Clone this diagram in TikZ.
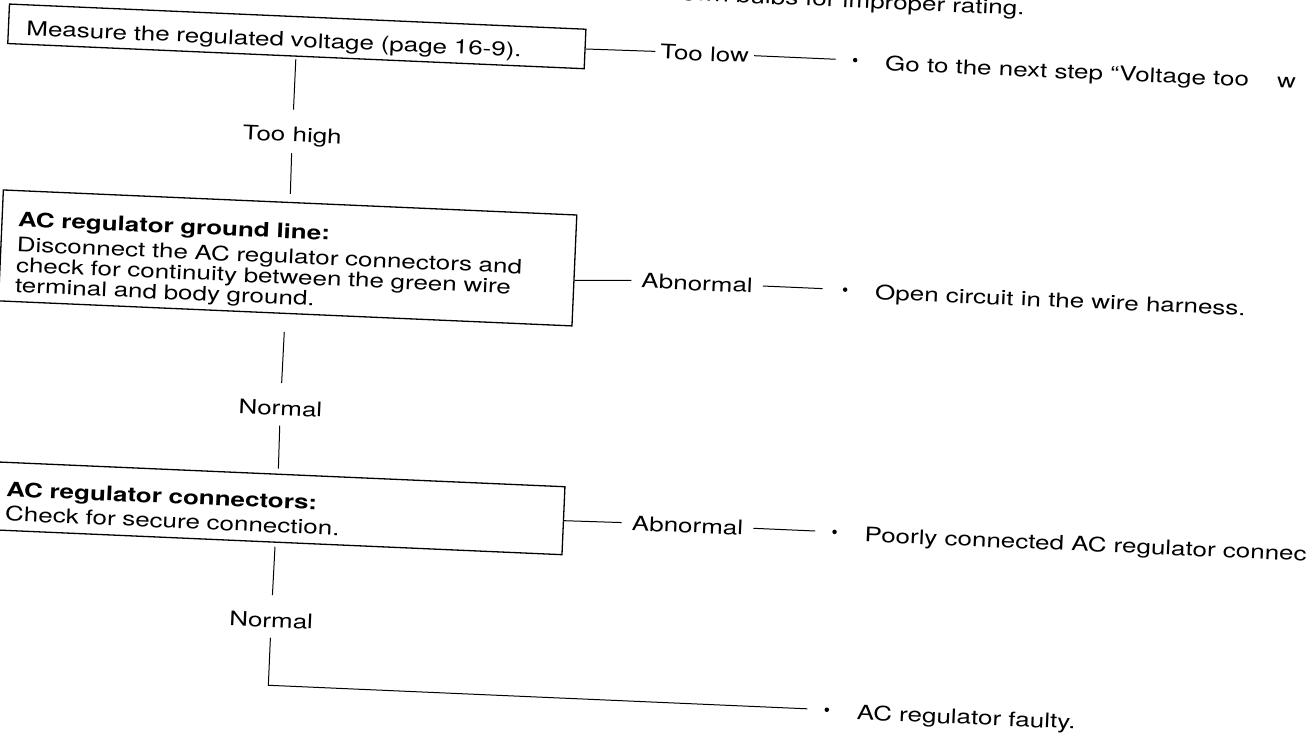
\documentclass[tikz,border=0pt]{standalone}
\usepackage{fontspec}
\setmainfont{TeX Gyre Heros}[FakeStretch=1.3]
\usetikzlibrary{calc}
\begin{document}
\begin{tikzpicture}[x=1pt,y=-1pt,
  every node/.style={font=\fontsize{20}{20.5}\selectfont},
  box/.style={draw, line width=1.3pt, rectangle, anchor=north west, inner ysep=0pt, align=left},
  vlbl/.style={anchor=base, inner xsep=3pt, inner ysep=0pt, text height=14.5pt, text depth=4.2pt},
  hlbl/.style={anchor=west, inner ysep=0pt, text height=14.5pt, text depth=0pt},
  conn/.style={line width=1pt},
  bul/.style={circle, fill, inner sep=0pt, minimum size=4.5pt},
  res/.style={anchor=base west, inner sep=0pt}]
\fill[white] (0,0) rectangle (1307,740);
\useasboundingbox (0,0) rectangle (1307,740);
\clip (0,0) rectangle (1307,740);
\begin{scope}[rotate=-2.5, transform shape]
  % partly visible line above
  \node[res] (top) at (672,-29.5) {rown bulbs for improper rating.};
  % boxes
  \node[box, inner xsep=18pt, text width=541pt, text height=30.5pt, text depth=9pt] (b1) at (9,3)
    {Measure the regulated voltage (page 16-9).};
  \node[box, inner xsep=16pt, text width=542pt, text height=36pt, text depth=75pt] (b2) at (11,189)
    {\baselineskip=20.5pt\relax
     {\bfseries AC regulator ground line:}\\[4.5pt]
     \makebox[542pt][s]{Disconnect the AC regulator connectors and}\\
     \makebox[542pt][s]{check for continuity between the green wire}\\
     terminal and body ground.};
  \node[box, inner xsep=16pt, text width=542pt, text height=34pt, text depth=34pt] (b3) at (11,461)
    {\baselineskip=20.5pt\relax
     {\bfseries AC regulator connectors:}\\[4pt]
     Check for secure connection.};
  % vertical labels
  \node[vlbl] (th) at (298,129) {Too high};
  \node[vlbl] (n1) at (298,402.7) {Normal};
  \node[vlbl] (n2) at (298,615) {Normal};
  % horizontal labels
  \node[hlbl, inner xsep=5pt] (tl) at (657,22.75) {Too low};
  \node[hlbl, inner xsep=10pt] (ab1) at (643,252.5) {Abnormal};
  \node[hlbl, inner xsep=10pt] (ab2) at (644,495) {Abnormal};
  % bullets
  \node[bul] (d1) at (857,22.75) {};
  \node[bul] (d2) at (857,252.5) {};
  \node[bul] (d3) at (857,495) {};
  \node[bul] (d4) at (857,673) {};
  % results
  \node[res] (t1) at (887,32) {Go to the next step “Voltage too\hspace{28pt}w};
  \node[res] (t2) at (887,261) {Open circuit in the wire harness.};
  \node[res] (t3) at (887,503.5) {Poorly connected AC regulator connectors.};
  \node[res] (t4) at (887,681.5) {AC regulator faulty.};
  \coordinate (k) at (298,673);
  % vertical connectors
  \draw[conn, shorten <=2.5pt, shorten >=17.5pt] (b1.south) -- (th.north);
  \draw[conn, shorten <=7pt, shorten >=8pt] (th.south) -- (b2.north);
  \draw[conn, shorten <=18pt, shorten >=17.5pt] (b2.south) -- (n1.north);
  \draw[conn, shorten <=6pt, shorten >=5pt] (n1.south) -- (b3.north);
  \draw[conn, shorten <=4pt, shorten >=17.5pt] (b3.south) -- (n2.north);
  \draw[conn, shorten <=6pt, shorten >=17pt] (n2.south) -- (k) -- (d4);
  % horizontal connectors
  \draw[conn] (b1.east) -- (tl.west);
  \draw[conn, shorten >=17pt] (tl.east) -- (d1);
  \draw[conn] ($(b2.north east)!0.588!(b2.south east)$) -- (ab1.west);
  \draw[conn, shorten >=20pt] (ab1.east) -- (d2);
  \draw[conn] (b3.east) -- (ab2.west);
  \draw[conn, shorten >=17pt] (ab2.east) -- (d3);
\end{scope}
\end{tikzpicture}
\end{document}
